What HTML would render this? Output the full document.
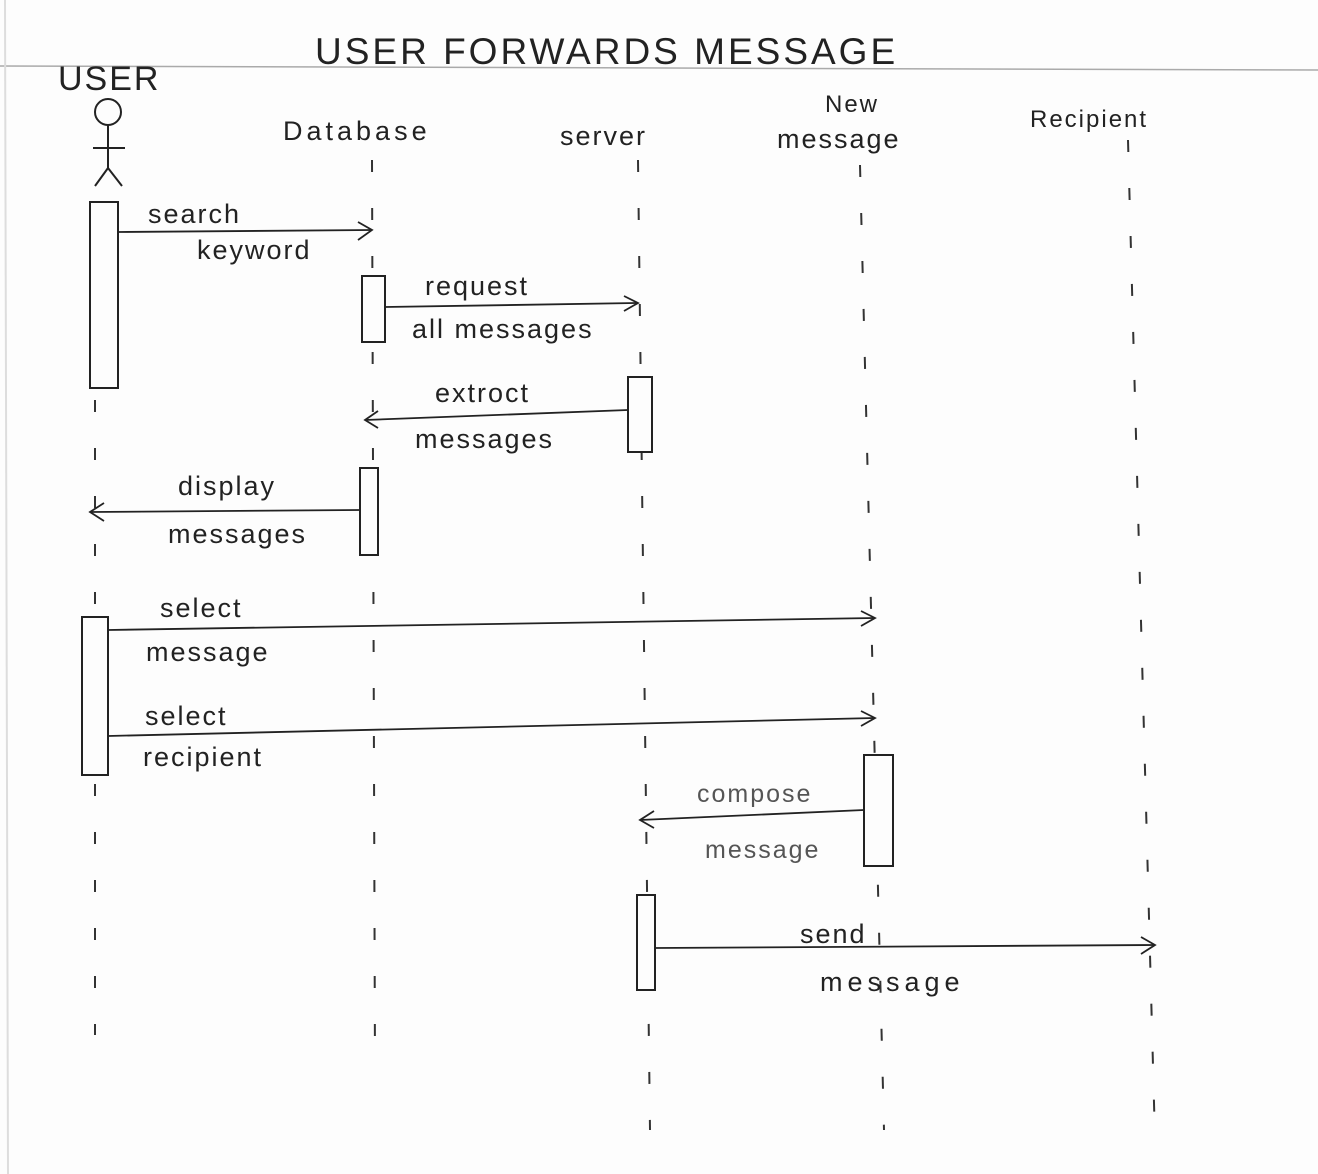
<!DOCTYPE html>
<html><head><meta charset="utf-8"><style>
html,body{margin:0;padding:0;background:#fdfdfd;}
svg{display:block}
text{font-family:"Liberation Sans",sans-serif;fill:#222;font-size:27px;letter-spacing:2px}
</style></head><body>
<svg width="1318" height="1174" viewBox="0 0 1318 1174" xmlns="http://www.w3.org/2000/svg">
<rect width="1318" height="1174" fill="#fdfdfd"/>
<line x1="0" y1="66" x2="1318" y2="70" stroke="#aaa" stroke-width="1.5"/>
<line x1="5" y1="0" x2="8" y2="1174" stroke="#ddd" stroke-width="2"/>
<text x="315" y="64" style="font-size:37px;letter-spacing:3px">USER FORWARDS MESSAGE</text>
<text x="58" y="90" style="font-size:34px">USER</text>
<g stroke="#222" stroke-width="2" fill="none">
<circle cx="108" cy="112" r="13"/>
<line x1="108" y1="125" x2="108" y2="168"/>
<line x1="93" y1="148" x2="125" y2="148"/>
<line x1="108" y1="168" x2="95" y2="186"/>
<line x1="108" y1="168" x2="122" y2="186"/>
</g>
<text x="283" y="140" style="letter-spacing:4px">Database</text>
<text x="560" y="145">server</text>
<text x="825" y="112" style="font-size:24px">New</text>
<text x="777" y="148">message</text>
<text x="1030" y="127" style="font-size:24px">Recipient</text>
<g stroke="#333" stroke-width="2" stroke-dasharray="12 36" fill="none">
<line x1="95" y1="400" x2="95" y2="1035"/>
<line x1="372" y1="160" x2="375" y2="1070"/>
<line x1="638" y1="160" x2="650" y2="1130"/>
<line x1="860" y1="165" x2="884" y2="1130"/>
<line x1="1128" y1="140" x2="1155" y2="1140"/>
</g>
<g stroke="#222" stroke-width="2" fill="#fdfdfd">
<rect x="90" y="202" width="28" height="186"/>
<rect x="362" y="276" width="23" height="66"/>
<rect x="628" y="377" width="24" height="75"/>
<rect x="360" y="468" width="18" height="87"/>
<rect x="82" y="617" width="26" height="158"/>
<rect x="864" y="755" width="29" height="111"/>
<rect x="637" y="895" width="18" height="95"/>
</g>
<g stroke="#222" stroke-width="1.8" fill="none">
<line x1="118" y1="232" x2="372" y2="230"/><path d="M358 222 L372 230 L358 240"/>
<line x1="385" y1="307" x2="638" y2="303"/><path d="M624 296 L638 303 L624 311"/>
<line x1="628" y1="410" x2="365" y2="420"/><path d="M378 411 L365 420 L378 428"/>
<line x1="360" y1="510" x2="90" y2="512"/><path d="M104 503 L90 512 L104 521"/>
<line x1="108" y1="630" x2="875" y2="618"/><path d="M861 611 L875 618 L861 626"/>
<line x1="108" y1="736" x2="875" y2="718"/><path d="M861 711 L875 718 L861 726"/>
<line x1="864" y1="810" x2="640" y2="820"/><path d="M654 811 L640 820 L654 828"/>
<line x1="655" y1="948" x2="1155" y2="945"/><path d="M1141 937 L1155 945 L1141 954"/>
</g>
<text x="148" y="223">search</text>
<text x="197" y="259">keyword</text>
<text x="425" y="295">request</text>
<text x="412" y="338">all messages</text>
<text x="435" y="402">extroct</text>
<text x="415" y="448">messages</text>
<text x="178" y="495">display</text>
<text x="168" y="543">messages</text>
<text x="160" y="617">select</text>
<text x="146" y="661">message</text>
<text x="145" y="725">select</text>
<text x="143" y="766">recipient</text>
<text x="697" y="802" style="fill:#555;font-size:25px">compose</text>
<text x="705" y="858" style="fill:#555;font-size:25px">message</text>
<text x="800" y="943">send</text>
<text x="820" y="991" style="letter-spacing:5px">message</text>
</svg>
</body></html>
